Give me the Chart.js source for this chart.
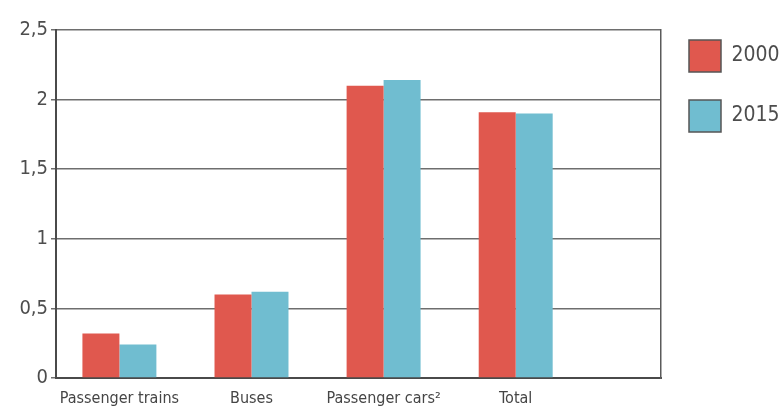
<!DOCTYPE html>
<html>
<head>
<meta charset="utf-8">
<script src="https://cdn.jsdelivr.net/npm/chart.js@4"></script>
<style>
  body { margin: 0; background: #ffffff; }
  #wrap { width: 783px; height: 411px; }
</style>
</head>
<body>
<div id="wrap"><canvas id="barChart" width="783" height="411"></canvas></div>
<script>
let categories = ["Passenger trains", "Buses", "Passenger cars²", "Total"];
let years = ["2000", "2015"];
let values2000 = [0.32, 0.60, 2.10, 1.91];
let values2015 = [0.24, 0.62, 2.14, 1.90];
let yTicks = [0, 0.5, 1, 1.5, 2, 2.5];

let colors = ["#e0584e", "#70bdd0"];
let fontName = "'DejaVu Sans Condensed', 'Liberation Sans Narrow', sans-serif";

function toPoints(list) {
  return list.map((v, i) => ({ x: i, y: v }));
}

const ctx = document.getElementById("barChart").getContext("2d");

let barChart = new Chart(ctx, {
  type: "bar",
  data: {
    datasets: [
      { label: years[0], data: toPoints(values2000), backgroundColor: colors[0], borderWidth: 0 },
      { label: years[1], data: toPoints(values2015), backgroundColor: colors[1], borderWidth: 0 }
    ]
  },
  options: {
    responsive: false,
    animation: false,
    layout: { padding: { top: 12, left: 0, right: 0, bottom: 0 } },
    datasets: { bar: { categoryPercentage: 0.56, barPercentage: 1.0 } },
    scales: {
      x: {
        type: "linear",
        offset: false,
        min: -0.48,
        max: 4.1,
        grid: { display: false },
        border: { display: true, color: "#4a4a4a", width: 2 },
        afterBuildTicks: (axis) => { axis.ticks = categories.map((c, i) => ({ value: i })); },
        afterFit: (scale) => { scale.height = 33; },
        ticks: {
          autoSkip: false,
          maxRotation: 0,
          padding: 3,
          color: "#454545",
          font: { family: fontName, size: 16 },
          callback: (value) => categories[value] || ""
        }
      },
      y: {
        min: 0,
        max: 2.5,
        afterBuildTicks: (axis) => { axis.ticks = yTicks.map(v => ({ value: v })); },
        afterFit: (scale) => { scale.width = 56; },
        grid: { color: "#6e6e6e", lineWidth: 1.5, tickLength: 5 },
        border: { display: true, color: "#4a4a4a", width: 2 },
        ticks: {
          padding: 3,
          color: "#4d4d4d",
          font: { family: fontName, size: 20, lineHeight: "54px" },
          callback: (value) => String(value).replace(".", ",")
        }
      },
      y2: {
        position: "right",
        min: 0,
        max: 2.5,
        grid: { display: false },
        ticks: { display: false },
        afterFit: (scale) => { scale.width = 0; },
        border: { display: true, color: "#5a5a5a", width: 1.5 }
      }
    },
    plugins: {
      tooltip: { enabled: false },
      legend: {
        position: "right",
        align: "start",
        maxWidth: 122,
        labels: {
          boxWidth: 32,
          boxHeight: 32,
          padding: 28,
          color: "#4d4d4d",
          font: { family: fontName, size: 21 },
          generateLabels: (chart) => {
            let items = Chart.defaults.plugins.legend.labels.generateLabels(chart);
            items.forEach(item => { item.lineWidth = 1.5; item.strokeStyle = "#555555"; });
            return items;
          }
        }
      }
    }
  }
});
</script>
</body>
</html>
